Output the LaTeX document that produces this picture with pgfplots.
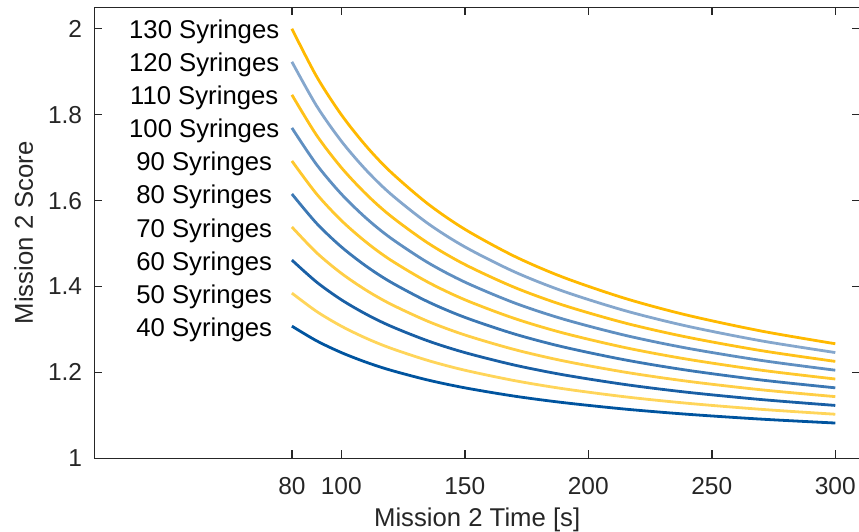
\documentclass[border=0pt]{standalone}
\usepackage{fontspec}
\setmainfont{Liberation Sans}
\usepackage{pgfplots}
\usepackage{pgfplotstable}
\pgfplotsset{compat=1.18}
\definecolor{axgray}{RGB}{38,38,38}
\definecolor{c40}{RGB}{0,84,159}
\definecolor{c50}{RGB}{255,213,90}
\definecolor{c60}{RGB}{25,95,165}
\definecolor{c70}{RGB}{255,206,70}
\definecolor{c80}{RGB}{60,120,180}
\definecolor{c90}{RGB}{255,200,45}
\definecolor{c100}{RGB}{95,143,193}
\definecolor{c110}{RGB}{255,193,25}
\definecolor{c120}{RGB}{133,167,205}
\definecolor{c130}{RGB}{255,185,0}
\pgfplotstableread{
t n40 n50 n60 n70 n80 n90 n100 n110 n120 n130
80 1.3077 1.3846 1.4615 1.5385 1.6154 1.6923 1.7692 1.8462 1.9231 2.0000
90 1.2735 1.3419 1.4103 1.4786 1.5470 1.6154 1.6838 1.7521 1.8205 1.8889
100 1.2462 1.3077 1.3692 1.4308 1.4923 1.5538 1.6154 1.6769 1.7385 1.8000
110 1.2238 1.2797 1.3357 1.3916 1.4476 1.5035 1.5594 1.6154 1.6713 1.7273
120 1.2051 1.2564 1.3077 1.3590 1.4103 1.4615 1.5128 1.5641 1.6154 1.6667
135 1.1823 1.2279 1.2735 1.3191 1.3647 1.4103 1.4558 1.5014 1.5470 1.5926
150 1.1641 1.2051 1.2462 1.2872 1.3282 1.3692 1.4103 1.4513 1.4923 1.5333
170 1.1448 1.1810 1.2172 1.2534 1.2896 1.3258 1.3620 1.3982 1.4344 1.4706
190 1.1296 1.1619 1.1943 1.2267 1.2591 1.2915 1.3239 1.3563 1.3887 1.4211
215 1.1145 1.1431 1.1717 1.2004 1.2290 1.2576 1.2862 1.3148 1.3435 1.3721
240 1.1026 1.1282 1.1538 1.1795 1.2051 1.2308 1.2564 1.2821 1.3077 1.3333
270 1.0912 1.1140 1.1368 1.1595 1.1823 1.2051 1.2279 1.2507 1.2735 1.2963
300 1.0821 1.1026 1.1231 1.1436 1.1641 1.1846 1.2051 1.2256 1.2462 1.2667
}\datatable
\begin{document}
\begin{tikzpicture}
\begin{axis}[
  name=ax,
  scale only axis,
  width=765.7pt, height=451pt,
  xmin=0, xmax=310, ymin=1, ymax=2.05,
  xtick={80,100,150,200,250,300},
  ytick={1,1.2,1.4,1.6,1.8,2},
  tick align=inside,
  major tick length=8pt,
  axis line style={line width=1.4pt, color=axgray},
  every tick/.style={line width=1.4pt, color=axgray},
  /pgf/number format/assume math mode=true,
  tick label style={font=\fontsize{24.5}{29}\selectfont, text=axgray},
  yticklabel style={inner sep=0pt, xshift=-12pt},
  xticklabel style={inner sep=0pt, yshift=-19pt},
  label style={font=\fontsize{25.7}{30}\selectfont, text=axgray},
  xlabel={Mission 2 Time [s]},
  ylabel={Mission 2 Score},
  xlabel style={at={(axis description cs:0.5,-0.1505)}, anchor=base, inner sep=0pt},
  ylabel style={at={(axis description cs:-0.0801,0.5)}, anchor=base, inner sep=0pt},
  every axis plot/.append style={line width=2.8pt, smooth, no markers},
]
\addplot[c40] table[x=t,y=n40]{\datatable};
\addplot[c50] table[x=t,y=n50]{\datatable};
\addplot[c60] table[x=t,y=n60]{\datatable};
\addplot[c70] table[x=t,y=n70]{\datatable};
\addplot[c80] table[x=t,y=n80]{\datatable};
\addplot[c90] table[x=t,y=n90]{\datatable};
\addplot[c100] table[x=t,y=n100]{\datatable};
\addplot[c110] table[x=t,y=n110]{\datatable};
\addplot[c120] table[x=t,y=n120]{\datatable};
\addplot[c130] table[x=t,y=n130]{\datatable};
\begin{scope}[every node/.style={anchor=base, inner sep=0pt, yshift=-10pt, font=\fontsize{25.7}{30}\selectfont}]
\node at (axis cs:44.5,2.0000) {130 Syringes};
\node at (axis cs:44.5,1.9231) {120 Syringes};
\node at (axis cs:44.5,1.8462) {110 Syringes};
\node at (axis cs:44.5,1.7692) {100 Syringes};
\node at (axis cs:44.5,1.6923) {90 Syringes};
\node at (axis cs:44.5,1.6154) {80 Syringes};
\node at (axis cs:44.5,1.5385) {70 Syringes};
\node at (axis cs:44.5,1.4615) {60 Syringes};
\node at (axis cs:44.5,1.3846) {50 Syringes};
\node at (axis cs:44.5,1.3077) {40 Syringes};
\end{scope}
\end{axis}
\pgfresetboundingbox
\useasboundingbox ([shift={(-94.3pt,-72.7pt)}]ax.south west) rectangle ([shift={(764.7pt,458.3pt)}]ax.south west);
\end{tikzpicture}
\end{document}
